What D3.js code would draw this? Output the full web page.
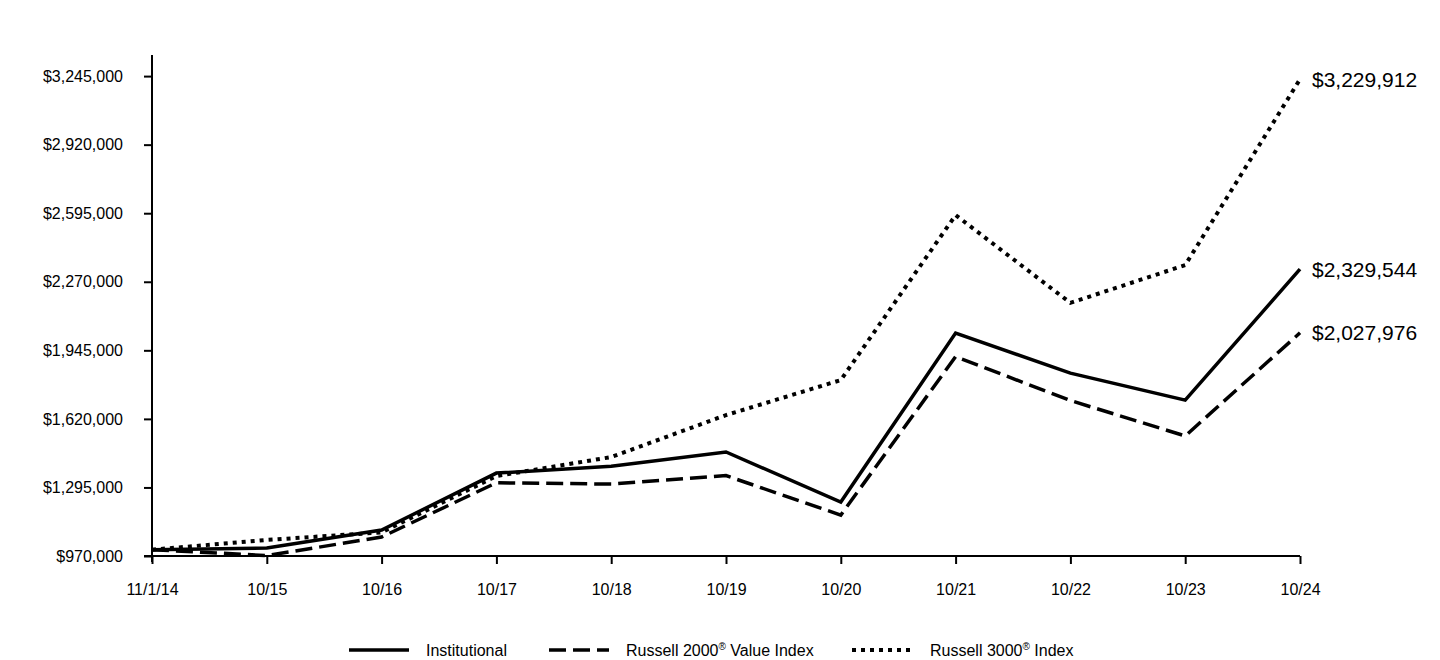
<!DOCTYPE html>
<html><head><meta charset="utf-8">
<script src="https://cdn.jsdelivr.net/npm/d3@7"></script>
<style>
html,body{margin:0;padding:0;background:#fff;}
svg{display:block;font-family:"Liberation Sans",Arial,sans-serif;}
</style></head>
<body>
<svg id="chart" width="1440" height="660"></svg>
<script>
const categories = ["11/1/14","10/15","10/16","10/17","10/18","10/19","10/20","10/21","10/22","10/23","10/24"];
const institutional = [1000000,1008000,1093000,1363000,1396000,1463000,1226000,2027000,1837000,1709000,2329544];
const russell2000Value = [1000000,972000,1060000,1317000,1311000,1351000,1164000,1915000,1707000,1539000,2027976];
const russell3000 = [1000000,1046000,1082000,1349000,1439000,1638000,1804000,2586000,2170000,2349000,3229912];
const yTicks = [970000,1295000,1620000,1945000,2270000,2595000,2920000,3245000];
const endLabels = ["$2,329,544","$2,027,976","$3,229,912"];
const seriesNames = ["Institutional","Russell 2000® Value Index","Russell 3000® Index"];

const svg = d3.select("#chart");
const FONT = "'Liberation Sans',Arial,sans-serif";
const x = d3.scalePoint().domain(categories).range([152,1300]);
const y = d3.scaleLinear().domain([970000,3345000]).range([556,55]);

const series = [
  {name:seriesNames[0], values:institutional, dash:null, width:3.5, label:endLabels[0]},
  {name:seriesNames[1], values:russell2000Value, dash:"17,7", width:3.5, label:endLabels[1]},
  {name:seriesNames[2], values:russell3000, dash:"4,5", width:4, label:endLabels[2]}
];

// Y axis
const yAxis = d3.axisLeft(y).tickValues(yTicks).tickSize(8).tickSizeOuter(0)
  .tickFormat(d => "$" + d3.format(",")(d));
const gy = svg.append("g").attr("transform","translate(152,0)").call(yAxis)
  .attr("font-family",FONT).attr("font-size",16);
gy.select(".domain").attr("stroke","#000").attr("stroke-width",2).attr("d","M0,55V562");
gy.selectAll(".tick line").attr("stroke","#000").attr("stroke-width",2);
gy.selectAll(".tick text").attr("x",-29).style("font-size","16px").attr("fill","#000");

// X axis
const xAxis = d3.axisBottom(x).tickSize(8).tickSizeOuter(0);
const gx = svg.append("g").attr("transform","translate(0,556)").call(xAxis)
  .attr("font-family",FONT).attr("font-size",16);
gx.select(".domain").attr("stroke","#000").attr("stroke-width",2).attr("d","M144,0H1300");
gx.selectAll(".tick line").attr("stroke","#000").attr("stroke-width",2);
gx.selectAll(".tick text").attr("y",28).style("font-size","16px").attr("fill","#000");

// Lines
const line = d3.line().x((d,i)=>x(categories[i])).y(d=>y(d));
series.forEach(s=>{
  svg.append("path").datum(s.values).attr("d",line)
    .attr("fill","none").attr("stroke","#000").attr("stroke-width",s.width)
    .attr("stroke-dasharray",s.dash).attr("stroke-linejoin","miter");
  svg.append("text").attr("x",x(categories[categories.length-1])+12)
    .attr("y",y(s.values[s.values.length-1])).attr("dy","0.35em")
    .style("font-size","21px").attr("fill","#000").text(s.label);
});

// Legend
const legendItems = [
  {s:series[0], x0:349, tx:426},
  {s:series[1], x0:549, tx:626},
  {s:series[2], x0:852, tx:930}
];
legendItems.forEach(it=>{
  svg.append("line").attr("x1",it.x0).attr("x2",it.x0+60).attr("y1",650).attr("y2",650)
    .attr("stroke","#000").attr("stroke-width",it.s.width).attr("stroke-dasharray",it.s.dash);
  const t = svg.append("text").attr("x",it.tx).attr("y",656)
    .style("font-size","16px").attr("fill","#000");
  const parts = it.s.name.split("®");
  t.append("tspan").text(parts[0]);
  if(parts.length>1){
    t.append("tspan").style("font-size","10px").attr("dy",-6).text("®");
    t.append("tspan").attr("dy",6).text(parts[1]);
  }
});
</script>
</body></html>
